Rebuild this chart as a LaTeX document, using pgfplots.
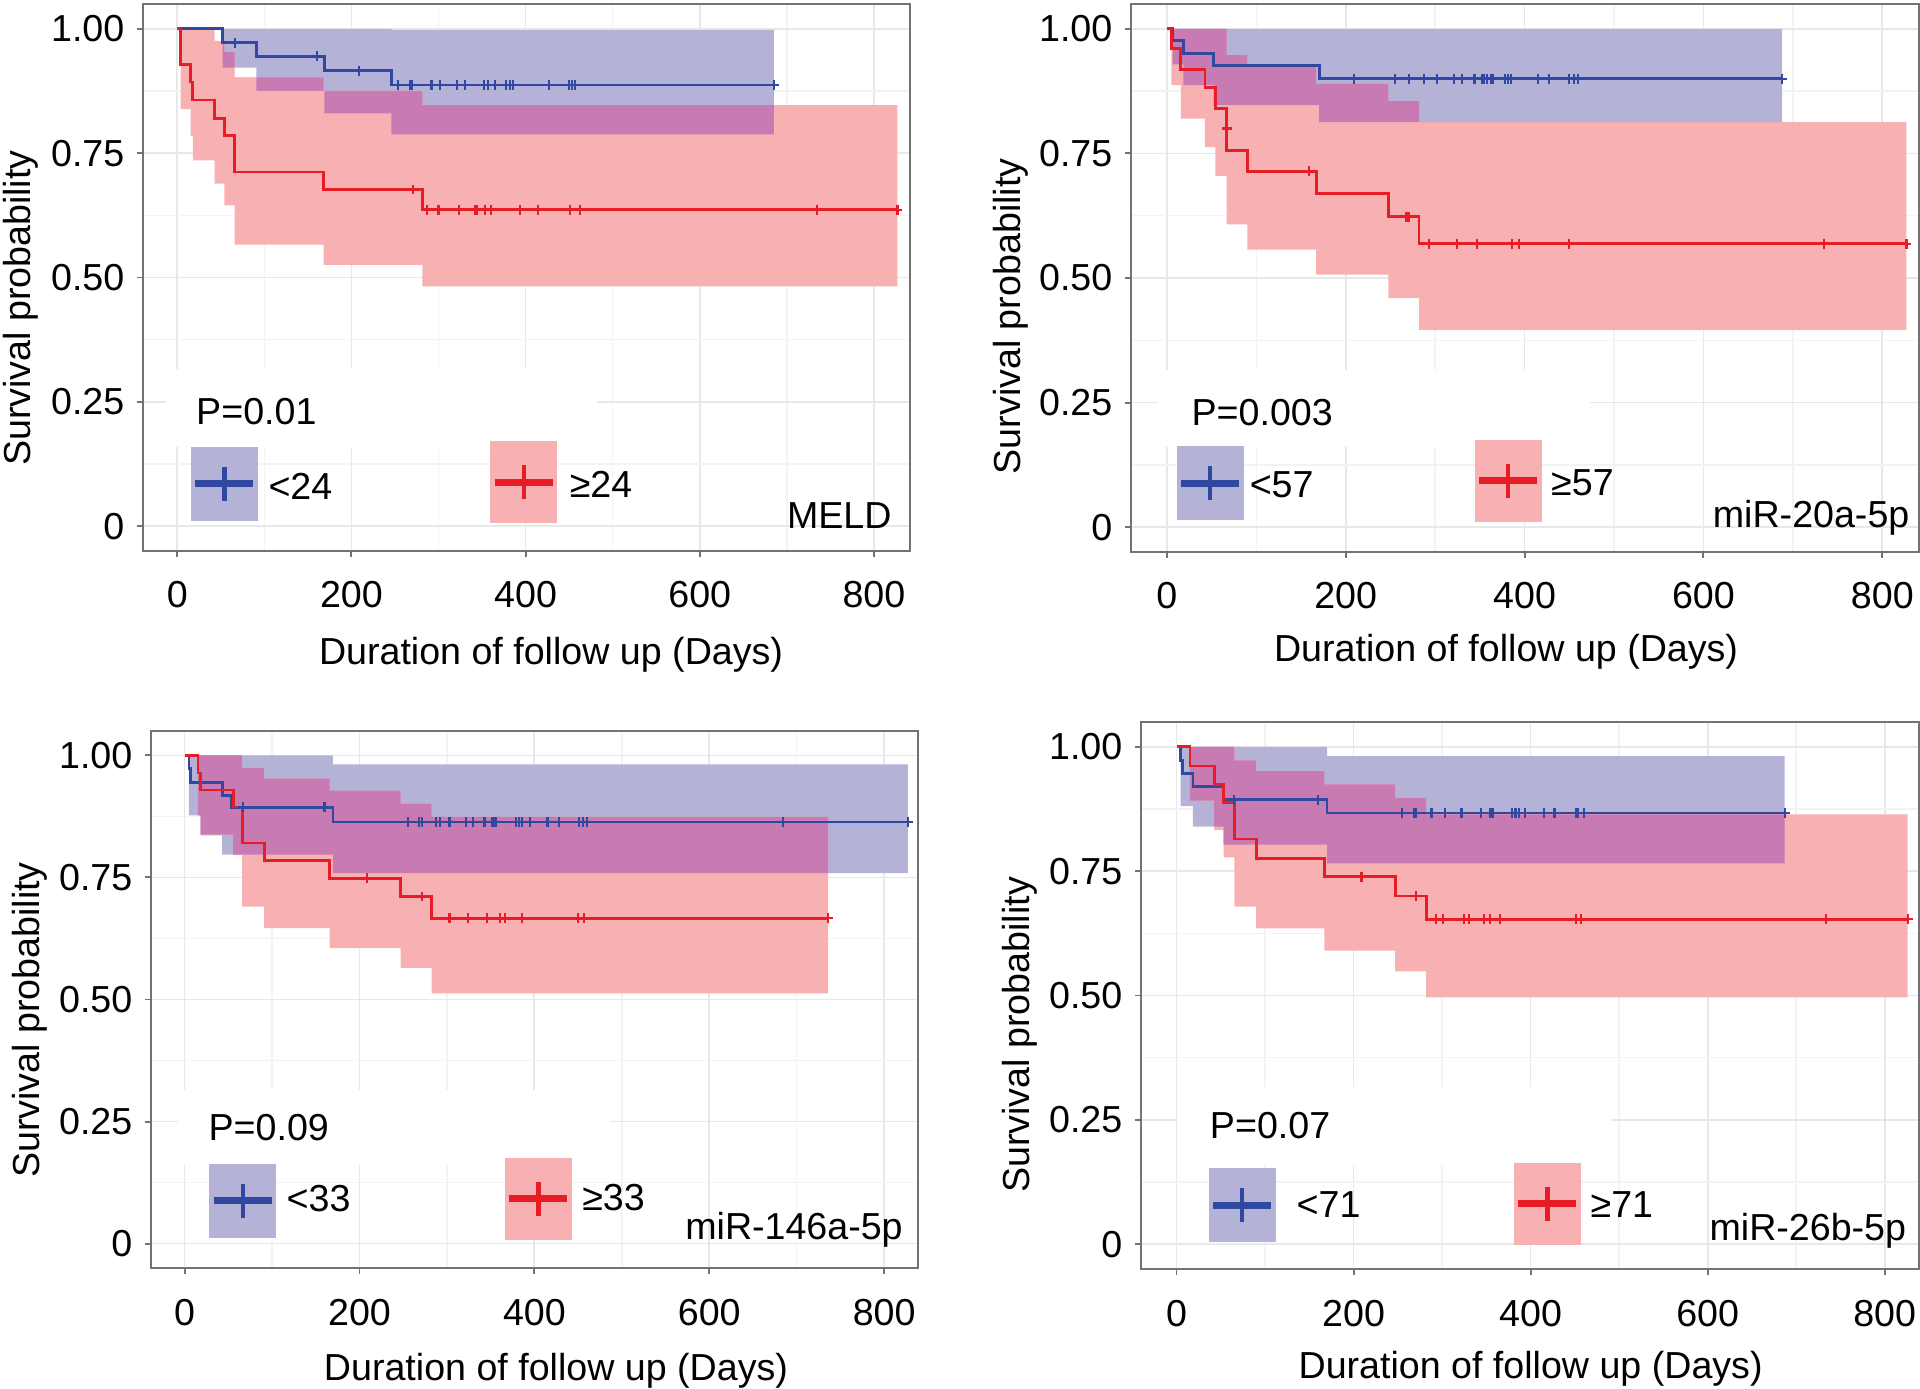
\documentclass[border=0pt]{standalone}
\usepackage{fontspec}
\setmainfont{Liberation Sans}
\usepackage{pgfplots}
\usepackage{pgfplotstable}
\pgfplotsset{compat=1.18}
\usepgfplotslibrary{fillbetween}

\definecolor{kmblue}{RGB}{48,72,160}
\definecolor{kmred}{RGB}{232,28,36}
\definecolor{bandblue}{RGB}{180,178,215}
\definecolor{bandred}{RGB}{247,177,178}
\definecolor{bandmix}{RGB}{200,122,178}
\definecolor{gridmaj}{RGB}{232,232,232}
\definecolor{gridmin}{RGB}{243,243,243}
\newcommand{\fsz}{\fontsize{10.7}{12.8}\selectfont}

\pgfplotsset{
  kmaxis/.style={
    scale only axis, anchor=south west, clip=false,
    ymin=-0.05, ymax=1.05,
    xtick={0,200,400,600,800},
    ytick={0,0.25,0.5,0.75,1},
    yticklabels={0,0.25,0.50,0.75,1.00},
    minor xtick={100,300,500,700},
    minor ytick={0.125,0.375,0.625,0.875},
    grid=both,
    major grid style={draw=gridmaj, line width=0.5pt},
    minor grid style={draw=gridmin, line width=0.4pt},
    axis line style={draw=black!55, line width=0.55pt},
    tick style={draw=black!55, line width=0.55pt},
    major tick length=0.06cm, minor tick length=0cm,
    tick align=outside, tick pos=left,
    ticklabel style={font=\fsz, inner sep=0pt},
    xticklabel style={anchor=base, yshift=-0.51cm},
    yticklabel style={anchor=east, xshift=-0.12cm},
    /pgf/number format/assume math mode=true,
    label style={font=\fsz, inner sep=0pt},
    ylabel={Survival probability},
    xlabel={Duration of follow up (Days)},
  },
  kmline/.style={const plot, color=#1, line width=0.8pt},
  cens/.style={only marks, mark=+, mark size=1.4pt, color=#1, mark options={line width=0.6pt}},
}

% band: name, table, colour
\newcommand{\band}[3]{%
  \addplot[const plot, draw=none, name path=#1u] table[x=x,y=hi]{#2};
  \addplot[const plot, draw=none, name path=#1d] table[x=x,y=lo]{#2};
  \addplot[fill=#3, draw=none] fill between[of=#1u and #1d];
}
% legend key: x, y (centre), half height, fill, line colour
\newcommand{\legkey}[5]{%
  \fill[#4] ([xshift=-0.335cm,yshift=-#3]axis cs:#1,#2) rectangle ([xshift=0.335cm,yshift=#3]axis cs:#1,#2);
  \draw[#5, line width=2pt] ([xshift=-0.29cm]axis cs:#1,#2) -- ([xshift=0.29cm]axis cs:#1,#2);
  \draw[#5, line width=1.3pt] ([yshift=-0.17cm]axis cs:#1,#2) -- ([yshift=0.17cm]axis cs:#1,#2);
}
\newcommand{\txt}[3]{\node[anchor=base west, font=\fsz, inner sep=0pt] at (axis cs:#1,#2) {#3};}
\newcommand{\txte}[3]{\node[anchor=base east, font=\fsz, inner sep=0pt] at (axis cs:#1,#2) {#3};}

% ---------- MELD ----------
\pgfplotstableread{
x lo hi
52 0.922 1.0
91 0.8755 1.0
169 0.830 1.0
246 0.788 0.998
685 0.788 0.998
}\bandAb
\pgfplotstableread{
x lo hi
4 0.8385 1.0
15.4 0.785 1.0
18 0.7355 1.0
43 0.689 0.976
54 0.645 0.953
66 0.566 0.9024
168 0.5256 0.8755
281.5 0.482 0.8466
827 0.482 0.8466
}\bandAr
\pgfplotstableread{
x lo hi
52 0.922 0.976
54 0.922 0.953
66 0.9024 0.9024
91 0.8755 0.9024
168 0.8755 0.8755
169 0.830 0.8755
246 0.788 0.8755
281.5 0.788 0.8466
685 0.788 0.8466
}\bandAm

% ---------- miR-20a-5p ----------
\pgfplotstableread{
x lo hi
6.4 0.929 1
18.4 0.887 1
52.4 0.847 1
170.4 0.813 1
688 0.813 1
}\bandBb
\pgfplotstableread{
x lo hi
5.2 0.887 1
15.7 0.820 1
42.7 0.7625 1
54.3 0.705 1
67 0.6077 0.9475
90 0.557 0.926
167 0.5067 0.890
247.6 0.4596 0.855
282 0.396 0.813
827 0.396 0.813
}\bandBr
\pgfplotstableread{
x lo hi
6.4 0.929 1
18.4 0.887 1
52.4 0.847 1
67 0.847 0.9475
90 0.847 0.926
167 0.847 0.890
170.4 0.813 0.890
247.6 0.813 0.855
282 0.813 0.813
688 0.813 0.813
}\bandBm

% ---------- miR-146a-5p ----------
\pgfplotstableread{
x lo hi
5 0.877 1
18.4 0.836 1
43 0.7966 1
169.7 0.759 0.9815
827 0.759 0.9815
}\bandCb
\pgfplotstableread{
x lo hi
15.3 0.877 1
18.4 0.8377 1
55.5 0.7966 1
65.9 0.690 0.9747
91 0.646 0.9527
166 0.605 0.928
247 0.565 0.9014
282.4 0.5123 0.874
736 0.5123 0.874
}\bandCr
\pgfplotstableread{
x lo hi
15.3 0.877 1
18.4 0.8377 1
55.5 0.7966 1
65.9 0.7966 0.9747
91 0.7966 0.9527
166 0.7966 0.928
169.7 0.759 0.928
247 0.759 0.9014
282.4 0.759 0.874
736 0.759 0.874
}\bandCm

% ---------- miR-26b-5p ----------
\pgfplotstableread{
x lo hi
4.6 0.881 1
18.6 0.8396 1
53.2 0.8032 1
170 0.7655 0.9815
687 0.7655 0.9815
}\bandDb
\pgfplotstableread{
x lo hi
15.2 0.892 1
42.6 0.833 1
53.2 0.778 1
65.4 0.6786 0.973
90 0.635 0.951
167 0.5903 0.9245
247 0.5485 0.8976
282 0.496 0.864
826 0.496 0.864
}\bandDr
\pgfplotstableread{
x lo hi
15.2 0.892 1
42.6 0.8396 1
53.2 0.8032 1
65.4 0.8032 0.973
90 0.8032 0.951
167 0.8032 0.9245
170 0.7655 0.9245
247 0.7655 0.8976
282 0.7655 0.864
687 0.7655 0.864
}\bandDm

\begin{document}
\begin{tikzpicture}

% ===== top left: MELD =====
\begin{axis}[kmaxis, at={(1.43cm,8.37cm)}, width=7.67cm, height=5.47cm,
  xmin=-39.3, xmax=841.4,
  ylabel style={at={(axis description cs:-0.160,0.444)}, anchor=center},
  xlabel style={at={(axis description cs:0.532,-0.2066)}, anchor=base}]
\band{ab}{\bandAb}{bandblue}
\band{ar}{\bandAr}{bandred}
\band{am}{\bandAm}{bandmix}
\addplot[kmline=kmblue] coordinates {(0,1) (52,0.972) (91,0.945) (169,0.916) (246,0.887) (685,0.887)};
\addplot[kmline=kmred] coordinates {(0,1) (4,0.929) (15.4,0.893) (18,0.857) (43,0.819) (54,0.785) (66,0.712) (168,0.677) (281.5,0.6365) (827,0.6365)};
\addplot[cens=kmblue] coordinates {(66,0.972) (160,0.945) (209,0.916) (254,0.887) (267,0.887) (270,0.887) (292,0.887) (302,0.887) (321,0.887) (330,0.887) (352,0.887) (357,0.887) (365,0.887) (378,0.887) (382,0.887) (386,0.887) (427,0.887) (450,0.887) (453,0.887) (457,0.887) (685,0.887)};
\addplot[cens=kmred] coordinates {(271,0.677) (287,0.6365) (300,0.6365) (324,0.6365) (342,0.6365) (344,0.6365) (353,0.6365) (360,0.6365) (394,0.6365) (414,0.6365) (451,0.6365) (462,0.6365) (735,0.6365) (827,0.6365)};
\fill[white] (axis cs:-13,0.16) rectangle (axis cs:482,0.315);
\txt{21}{0.204}{P=0.01}
\legkey{54}{0.085}{0.37cm}{bandblue}{kmblue}
\txt{104}{0.054}{<24}
\legkey{398}{0.088}{0.41cm}{bandred}{kmred}
\txt{450}{0.058}{≥24}
\txte{821}{-0.004}{MELD}
\end{axis}

% ===== top right: miR-20a-5p =====
\begin{axis}[kmaxis, at={(11.31cm,8.36cm)}, width=7.88cm, height=5.48cm,
  xmin=-40, xmax=841,
  ylabel style={at={(axis description cs:-0.152,0.43)}, anchor=center},
  xlabel style={at={(axis description cs:0.476,-0.199)}, anchor=base}]
\band{bb}{\bandBb}{bandblue}
\band{br}{\bandBr}{bandred}
\band{bm}{\bandBm}{bandmix}
\addplot[kmline=kmblue] coordinates {(0,1) (6.4,0.976) (18.4,0.951) (52.4,0.926) (170.4,0.900) (688,0.900)};
\addplot[kmline=kmred] coordinates {(0,1) (5.2,0.961) (15.7,0.919) (42.7,0.882) (54.3,0.841) (67,0.756) (90,0.714) (167,0.670) (247.6,0.623) (282,0.569) (827,0.569)};
\addplot[cens=kmblue] coordinates {(209,0.9) (255,0.9) (271,0.9) (288,0.9) (302,0.9) (321,0.9) (330,0.9) (344,0.9) (352,0.9) (355,0.9) (358,0.9) (362,0.9) (365,0.9) (378,0.9) (381,0.9) (385,0.9) (415,0.9) (427,0.9) (450,0.9) (455,0.9) (460,0.9) (688,0.9)};
\addplot[cens=kmred] coordinates {(67,0.80) (159,0.714) (268,0.623) (271,0.623) (293,0.569) (324,0.569) (347,0.569) (386,0.569) (394,0.569) (450,0.569) (735,0.569) (827,0.569)};
\fill[white] (axis cs:-10,0.16) rectangle (axis cs:473,0.315);
\txt{27}{0.204}{P=0.003}
\legkey{48.5}{0.088}{0.37cm}{bandblue}{kmblue}
\txt{92}{0.06}{<57}
\legkey{381.5}{0.093}{0.41cm}{bandred}{kmred}
\txt{429}{0.0634}{≥57}
\txte{831}{0.0}{miR-20a-5p}
\end{axis}

% ===== bottom left: miR-146a-5p =====
\begin{axis}[kmaxis, at={(1.51cm,1.20cm)}, width=7.67cm, height=5.37cm,
  xmin=-38.4, xmax=838.7,
  ylabel style={at={(axis description cs:-0.158,0.462)}, anchor=center},
  xlabel style={at={(axis description cs:0.528,-0.2104)}, anchor=base}]
\band{cb}{\bandCb}{bandblue}
\band{cr}{\bandCr}{bandred}
\band{cm}{\bandCm}{bandmix}
\addplot[kmline=kmblue] coordinates {(0,1) (5,0.973) (6.5,0.945) (43,0.918) (53.6,0.894) (169.7,0.8637) (827,0.8637)};
\addplot[kmline=kmred] coordinates {(0,1) (15.3,0.964) (18.4,0.929) (55.5,0.8945) (65.9,0.8205) (91,0.785) (166,0.7486) (247,0.711) (282.4,0.6664) (736,0.6664)};
\addplot[cens=kmblue] coordinates {(67,0.894) (160,0.894) (255,0.8637) (268,0.8637) (271,0.8637) (288,0.8637) (292,0.8637) (303,0.8637) (322,0.8637) (330,0.8637) (343,0.8637) (352,0.8637) (354,0.8637) (356,0.8637) (379,0.8637) (382,0.8637) (386,0.8637) (395,0.8637) (415,0.8637) (428,0.8637) (451,0.8637) (456,0.8637) (460,0.8637) (684,0.8637) (827,0.8637)};
\addplot[cens=kmred] coordinates {(209,0.7486) (272,0.711) (302,0.6664) (304,0.6664) (324,0.6664) (346,0.6664) (361,0.6664) (366,0.6664) (386,0.6664) (450,0.6664) (457,0.6664) (736,0.6664)};
\fill[white] (axis cs:-7,0.16) rectangle (axis cs:486,0.315);
\txt{26.7}{0.211}{P=0.09}
\legkey{66.8}{0.0875}{0.37cm}{bandblue}{kmblue}
\txt{116}{0.065}{<33}
\legkey{404.5}{0.092}{0.41cm}{bandred}{kmred}
\txt{454}{0.067}{≥33}
\txte{822}{0.009}{miR-146a-5p}
\end{axis}

% ===== bottom right: miR-26b-5p =====
\begin{axis}[kmaxis, at={(11.41cm,1.19cm)}, width=7.78cm, height=5.47cm,
  xmin=-40.1, xmax=838.8,
  ylabel style={at={(axis description cs:-0.1555,0.428)}, anchor=center},
  xlabel style={at={(axis description cs:0.5008,-0.201)}, anchor=base}]
\band{db}{\bandDb}{bandblue}
\band{dr}{\bandDr}{bandred}
\band{dm}{\bandDm}{bandmix}
\addplot[kmline=kmblue] coordinates {(0,1) (4.6,0.973) (6.5,0.946) (18.6,0.920) (53.2,0.8935) (170,0.867) (687,0.867)};
\addplot[kmline=kmred] coordinates {(0,1) (15.2,0.9616) (42.6,0.9245) (53.2,0.8875) (65.4,0.8147) (90,0.7763) (167,0.739) (247,0.700) (282,0.653) (826,0.653)};
\addplot[cens=kmblue] coordinates {(65,0.8935) (160,0.8935) (255,0.867) (268,0.867) (271,0.867) (288,0.867) (303,0.867) (322,0.867) (344,0.867) (354,0.867) (357,0.867) (379,0.867) (383,0.867) (387,0.867) (394,0.867) (415,0.867) (427,0.867) (451,0.867) (453,0.867) (460,0.867) (687,0.867)};
\addplot[cens=kmred] coordinates {(209,0.739) (271,0.700) (293,0.653) (301,0.653) (325,0.653) (330,0.653) (347.5,0.653) (354,0.653) (365,0.653) (451,0.653) (457,0.653) (734,0.653) (826,0.653)};
\fill[white] (axis cs:2,0.16) rectangle (axis cs:491,0.317);
\txt{37}{0.213}{P=0.07}
\legkey{74}{0.078}{0.37cm}{bandblue}{kmblue}
\txt{135}{0.054}{<71}
\legkey{419}{0.081}{0.41cm}{bandred}{kmred}
\txt{467}{0.054}{≥71}
\txte{825}{0.008}{miR-26b-5p}
\end{axis}

\pgfresetboundingbox
\path[use as bounding box] (0,0) rectangle (19.2,13.88);
\end{tikzpicture}
\end{document}
